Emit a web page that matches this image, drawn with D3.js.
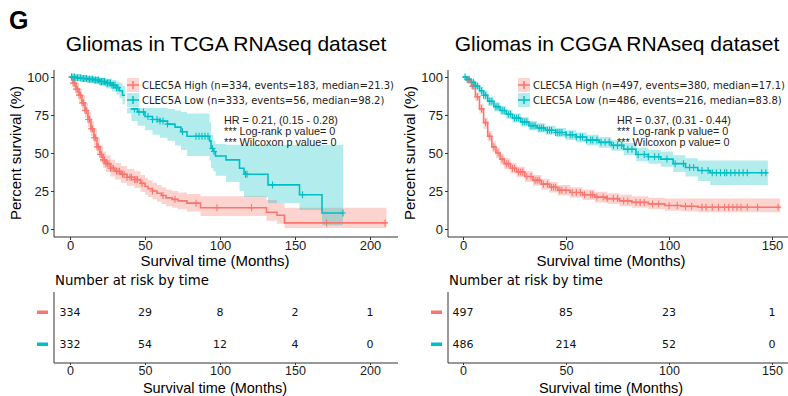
<!DOCTYPE html>
<html>
<head>
<meta charset="utf-8">
<script src="https://cdn.jsdelivr.net/npm/d3@7"></script>
<style>
  body { margin: 0; background: #fff; }
  svg { display: block; }
</style>
</head>
<body>
<svg id="chart" width="788" height="396"></svg>
<script>
// colours used by the survival plot
const RED  = "#F8766D";
const CYAN = "#00BFC4";

// ---- TCGA (left) ----
const tcgaHighT  = [0, 2, 4, 6, 8, 10, 12, 14, 16, 18, 20, 22, 24, 27, 30, 34, 38, 43, 47, 50, 52, 55, 58, 61, 64, 68, 72, 78, 87, 131, 138, 143, 211];
const tcgaHighS  = [100, 96, 92, 88, 83, 78, 72, 66, 60, 54, 49, 45.5, 43, 40, 38, 36, 34, 32.5, 30, 28, 26.5, 25, 23.5, 22, 20.5, 19.5, 18.5, 17, 14, 11, 9, 4, 4];
const tcgaHighHi = [100, 99, 96, 92, 88, 83, 77, 71, 66, 60, 55, 51, 48.5, 45.5, 43.5, 41.5, 39.5, 38, 35.5, 33.5, 32, 30.5, 29, 27.5, 26, 25, 24, 23, 21.5, 19, 17, 14, 14];
const tcgaHighLo = [100, 93, 88, 84, 78, 73, 67, 61, 55, 49, 44, 40, 37.5, 34.5, 32.5, 30.5, 28.5, 27, 24.5, 22.5, 21, 19.5, 18, 16.5, 15, 14, 13, 11.5, 8.5, 5.5, 3.5, 0.7, 0.7];
const tcgaHighCens = [1, 2, 3, 4, 5, 6, 7, 8, 9, 10, 11, 12, 13, 14, 15, 16, 17, 18, 19, 20, 21, 22, 23, 24, 25, 26, 27, 28, 29, 31, 32, 33, 35, 36, 38, 40, 41, 43, 44, 45, 48, 55, 62, 70, 84, 98, 121, 171, 210];

const tcgaLowT  = [0, 4, 8, 12, 16, 20, 24, 28, 31, 33, 35, 38, 41, 45, 50, 55, 60, 65, 70, 74, 78, 93, 94, 95.5, 97, 104, 113, 116, 132, 153, 168, 182];
const tcgaLowS  = [100, 99.5, 99, 98.5, 98, 97, 96, 94.5, 93, 91, 88, 83, 79, 77, 74, 72, 71, 69, 67, 64, 61, 58, 53, 51, 48, 45.5, 40, 36, 29, 22.5, 10.5, 10.5];
const tcgaLowHi = [100, 100, 100, 100, 100, 99.5, 99, 98, 97, 96, 94, 90, 87, 85, 83, 81, 80, 79, 78, 77, 76, 70, 62, 58, 56, 55.5, 55.5, 55.5, 55.5, 55.5, 55.5, 55.5];
const tcgaLowLo = [100, 98.5, 97.5, 96.5, 95.5, 94, 92.5, 90.5, 88.5, 86, 82, 76, 71, 68, 65, 62, 60, 58, 55, 52, 48, 45, 40, 38, 35, 31, 25, 21, 17, 12.5, 2.5, 2.5];
const tcgaLowCens = [1, 2, 3, 4, 5, 6, 7, 8, 9, 10, 11, 12, 13, 14, 15, 16, 17, 18, 19, 20, 21, 22, 23, 24, 25, 26, 27, 28, 29, 30, 31, 32, 43, 46, 49, 52, 55, 58, 60, 62, 65, 75, 84, 86, 88, 90, 92, 95, 96, 117, 118, 135, 155, 182];

const tcgaRiskTimes = [0, 50, 100, 150, 200];
const tcgaRiskHigh  = [334, 29, 8, 2, 1];
const tcgaRiskLow   = [332, 54, 12, 4, 0];
const tcgaXTicks    = [0, 50, 100, 150, 200];

// ---- CGGA (right) ----
const cggaHighT  = [0, 2, 4, 6, 8, 10, 12, 14, 16, 18, 20, 23, 26, 30, 34, 38, 42, 46, 52, 58, 64, 70, 76, 82, 90, 98, 106, 114, 154];
const cggaHighS  = [100, 98, 94, 87, 79, 70, 61, 54, 50, 46, 43, 40, 37.5, 34.5, 32, 29.5, 27.5, 25.5, 24, 22.5, 21, 20, 18.5, 17.5, 16.5, 15.5, 15, 14.3, 14.3];
const cggaHighHi = [100, 99.5, 96, 90, 82, 73, 64.5, 57.5, 53.5, 49.5, 46.5, 43.5, 41, 38, 35.5, 33, 31, 29, 27.5, 26, 24.5, 23.5, 22.5, 21.5, 20.5, 20, 20, 20, 20];
const cggaHighLo = [100, 96.5, 92, 84, 76, 66, 57.5, 50.5, 46.5, 42.5, 39.5, 36.5, 34, 31, 28.5, 26, 24, 22, 20.5, 19, 17.5, 16.5, 15, 14, 13, 12, 11.5, 11, 11];
const cggaHighCens = [2.5, 3, 4.5, 5, 7, 9, 11, 13, 15, 17, 19, 21, 22, 24, 25, 27, 28, 29, 31, 33, 35, 36, 37, 39, 41, 43, 44, 45, 47, 48, 50, 53, 55, 57, 59, 62, 63, 65, 68, 70, 73, 75, 78, 80, 84, 86, 88, 92, 95, 100, 104, 108, 111, 116, 118, 121, 124, 127, 129, 131, 133, 135, 138, 143, 153];

const cggaLowT  = [0, 2, 4, 6, 8, 10, 12, 15, 18, 21, 24, 28, 32, 36, 40, 45, 50, 55, 60, 66, 72, 78, 84, 90, 96, 102, 108, 114, 120, 148];
const cggaLowS  = [100, 98.5, 96.5, 94, 91, 88, 84, 80.5, 78, 75.5, 73, 70.5, 68, 66.5, 65, 63.5, 62, 60.5, 58.5, 57, 55, 52.5, 49, 47.5, 46, 43, 40.5, 38.5, 37, 37];
const cggaLowHi = [100, 99.5, 98, 96, 93.5, 91, 87, 83.5, 81, 78.5, 76, 73.5, 71, 69.5, 68, 66.5, 65, 63.5, 62, 60.5, 58.5, 56.5, 53.5, 52, 51, 48.5, 46.5, 45, 45, 45];
const cggaLowLo = [100, 97, 95, 92, 88.5, 85, 81, 77.5, 75, 72.5, 70, 67.5, 65, 63.5, 62, 60.5, 58.5, 57, 55, 53.5, 51.5, 48.5, 44.5, 43, 41, 37.5, 34.5, 31.5, 29, 29];
const cggaLowCens = [1, 2, 3, 5, 6, 7, 9, 10, 11, 13, 14, 16, 17, 19, 20, 22, 23, 25, 26, 27, 29, 30, 31, 33, 34, 35, 37, 38, 39, 41, 42, 43, 45, 46, 47, 48, 50, 52, 53, 55, 57, 58, 60, 62, 63, 65, 67, 69, 71, 73, 75, 77, 80, 82, 85, 88, 90, 93, 95, 99, 103, 107, 110, 112, 116, 119, 121, 123, 125, 127, 128, 130, 132, 134, 136, 138, 145, 147];

const cggaRiskTimes = [0, 50, 100, 150];
const cggaRiskHigh  = [497, 85, 23, 1];
const cggaRiskLow   = [486, 214, 52, 0];
const cggaXTicks    = [0, 50, 100, 150];

const yTicks = [0, 25, 50, 75, 100];

const svg = d3.select("#chart");
const FONT = "Liberation Sans, Arial, Helvetica, sans-serif";
const FONT2 = "DejaVu Sans, sans-serif";

// panel letter
svg.append("text")
  .attr("x", 9).attr("y", 29)
  .attr("font-family", FONT).attr("font-weight", "bold").attr("font-size", 25)
  .text("G");

function zip(t, a, b) {
  return t.map((d, i) => ({ t: d, a: a[i], b: b ? b[i] : null }));
}

function survAt(times, surv, t) {
  const i = d3.bisectRight(times, t) - 1;
  return surv[Math.max(0, i)];
}

function censorMarks(g, x, y, times, surv, cens, color) {
  g.append("g").selectAll("path")
    .data(cens)
    .enter().append("path")
      .attr("d", d => {
        const px = x(d), py = y(survAt(times, surv, d));
        return `M${px - 3},${py}H${px + 3}M${px},${py - 3.5}V${py + 3.5}`;
      })
      .attr("stroke", color)
      .attr("stroke-width", 1.1)
      .attr("fill", "none");
}

function styleAxis(a) {
  a.selectAll("text").attr("font-family", FONT).attr("font-size", 13).attr("fill", "#1a1a1a");
  a.selectAll("line, .domain").attr("stroke", "#333");
}

function drawPanel(p) {
  const g = svg.append("g");
  const x = d3.scaleLinear().domain([0, p.xMax]).range([p.x0, p.x1]);
  const y = d3.scaleLinear().domain([0, 100]).range([229, 77]);

  // title
  g.append("text")
    .attr("x", p.titleX).attr("y", 51)
    .attr("text-anchor", "middle")
    .attr("font-family", FONT).attr("font-size", 21)
    .text(p.title);

  // confidence bands
  const area = d3.area()
    .curve(d3.curveStepAfter)
    .x(d => x(d.t)).y0(d => y(d.a)).y1(d => y(d.b));
  g.append("path").datum(zip(p.highT, p.highLo, p.highHi))
    .attr("d", area).attr("fill", RED).attr("fill-opacity", 0.32);
  g.append("path").datum(zip(p.lowT, p.lowLo, p.lowHi))
    .attr("d", area).attr("fill", CYAN).attr("fill-opacity", 0.3);

  // KM step curves
  const line = d3.line()
    .curve(d3.curveStepAfter)
    .x(d => x(d.t)).y(d => y(d.a));
  g.append("path").datum(zip(p.highT, p.highS))
    .attr("d", line).attr("fill", "none").attr("stroke", RED).attr("stroke-width", 1.6);
  g.append("path").datum(zip(p.lowT, p.lowS))
    .attr("d", line).attr("fill", "none").attr("stroke", CYAN).attr("stroke-width", 1.6);

  censorMarks(g, x, y, p.highT, p.highS, p.highCens, RED);
  censorMarks(g, x, y, p.lowT, p.lowS, p.lowCens, CYAN);

  // axes
  const yAxis = d3.axisLeft(y).tickValues(yTicks).tickSize(3).tickPadding(2);
  const ya = g.append("g").attr("transform", `translate(${p.axisX},0)`).call(yAxis);
  ya.select(".domain").attr("d", `M0,70V237`);
  const xAxis = d3.axisBottom(x).tickValues(p.xTicks).tickSize(3).tickPadding(1);
  const xa = g.append("g").attr("transform", "translate(0,237)").call(xAxis);
  xa.select(".domain").attr("d", `M${p.axisX},0H${p.axisEnd}`);
  styleAxis(ya);
  styleAxis(xa);

  g.append("text")
    .attr("transform", `translate(${p.axisX - 33},153) rotate(-90)`)
    .attr("text-anchor", "middle")
    .attr("font-family", FONT).attr("font-size", 15)
    .text("Percent survival (%)");
  g.append("text")
    .attr("x", p.xLabelX).attr("y", 266)
    .attr("text-anchor", "middle")
    .attr("font-family", FONT).attr("font-size", 15)
    .text("Survival time (Months)");

  // legend
  const lg = g.append("g").attr("transform", `translate(${p.legX},0)`);
  lg.append("rect").attr("x", -2).attr("y", 77).attr("width", p.legW).attr("height", 31).attr("fill", "#fff");
  [[RED, p.legHigh, 85], [CYAN, p.legLow, 100]].forEach(([c, label, ly]) => {
    lg.append("rect").attr("x", 0).attr("y", ly - 7).attr("width", 12).attr("height", 14)
      .attr("fill", c).attr("fill-opacity", 0.3);
    lg.append("path").attr("d", `M0,${ly}H12M6,${ly - 4}V${ly + 4}`)
      .attr("stroke", c).attr("stroke-width", 1.5);
    lg.append("text").attr("x", 15).attr("y", ly + 4)
      .attr("font-family", FONT2).attr("font-size", 10).attr("fill", "#222")
      .text(label);
  });

  // stats
  g.append("g").selectAll("text")
    .data(p.stats)
    .enter().append("text")
      .attr("x", p.statX).attr("y", (d, i) => 124 + i * 11)
      .attr("font-family", FONT).attr("font-size", 10.8).attr("fill", "#222")
      .text(d => d);

  // risk table
  g.append("text")
    .attr("x", p.axisX + 1).attr("y", 285)
    .attr("font-family", FONT2).attr("font-size", 13.3)
    .text("Number at risk by time");

  const rxAxis = d3.axisBottom(x).tickValues(p.xTicks).tickSize(2).tickPadding(1);
  const rx = g.append("g").attr("transform", "translate(0,363)").call(rxAxis);
  rx.select(".domain").attr("d", `M${p.axisX},0H${p.axisEnd}`);
  styleAxis(rx);
  rx.selectAll("text").attr("font-size", 12.5);
  g.append("line")
    .attr("x1", p.axisX).attr("x2", p.axisX).attr("y1", 292).attr("y2", 363)
    .attr("stroke", "#333");
  g.append("text")
    .attr("x", p.xLabelX).attr("y", 393)
    .attr("text-anchor", "middle")
    .attr("font-family", FONT).attr("font-size", 14.5)
    .text("Survival time (Months)");

  [[RED, p.riskHigh, 312], [CYAN, p.riskLow, 344]].forEach(([c, vals, ry]) => {
    g.append("rect").attr("x", p.axisX - 17).attr("y", ry - 1.5).attr("width", 11).attr("height", 3.5).attr("fill", c);
    g.append("g").selectAll("text")
      .data(vals)
      .enter().append("text")
        .attr("x", (d, i) => x(p.riskTimes[i]))
        .attr("y", ry + 4)
        .attr("text-anchor", "middle")
        .attr("font-family", FONT2).attr("font-size", 11).attr("fill", "#111")
        .text(d => d);
  });
}

drawPanel({
  title: "Gliomas in TCGA RNAseq dataset", titleX: 226,
  xMax: 200, x0: 70, x1: 370, axisX: 54, axisEnd: 398, xLabelX: 215,
  xTicks: tcgaXTicks,
  highT: tcgaHighT, highS: tcgaHighS, highHi: tcgaHighHi, highLo: tcgaHighLo, highCens: tcgaHighCens,
  lowT: tcgaLowT, lowS: tcgaLowS, lowHi: tcgaLowHi, lowLo: tcgaLowLo, lowCens: tcgaLowCens,
  legX: 127, legW: 271,
  legHigh: "CLEC5A High (n=334, events=183, median=21.3)",
  legLow: "CLEC5A Low (n=333, events=56, median=98.2)",
  statX: 224,
  stats: ["HR = 0.21, (0.15 - 0.28)", "*** Log-rank p value= 0", "*** Wilcoxon p value= 0"],
  riskTimes: tcgaRiskTimes, riskHigh: tcgaRiskHigh, riskLow: tcgaRiskLow
});

drawPanel({
  title: "Gliomas in CGGA RNAseq dataset", titleX: 617,
  xMax: 150, x0: 463, x1: 772, axisX: 448, axisEnd: 788, xLabelX: 611,
  xTicks: cggaXTicks,
  highT: cggaHighT, highS: cggaHighS, highHi: cggaHighHi, highLo: cggaHighLo, highCens: cggaHighCens,
  lowT: cggaLowT, lowS: cggaLowS, lowHi: cggaLowHi, lowLo: cggaLowLo, lowCens: cggaLowCens,
  legX: 518, legW: 270,
  legHigh: "CLEC5A High (n=497, events=380, median=17.1)",
  legLow: "CLEC5A Low (n=486, events=216, median=83.8)",
  statX: 617,
  stats: ["HR = 0.37, (0.31 - 0.44)", "*** Log-rank p value= 0", "*** Wilcoxon p value= 0"],
  riskTimes: cggaRiskTimes, riskHigh: cggaRiskHigh, riskLow: cggaRiskLow
});
</script>
</body>
</html>
